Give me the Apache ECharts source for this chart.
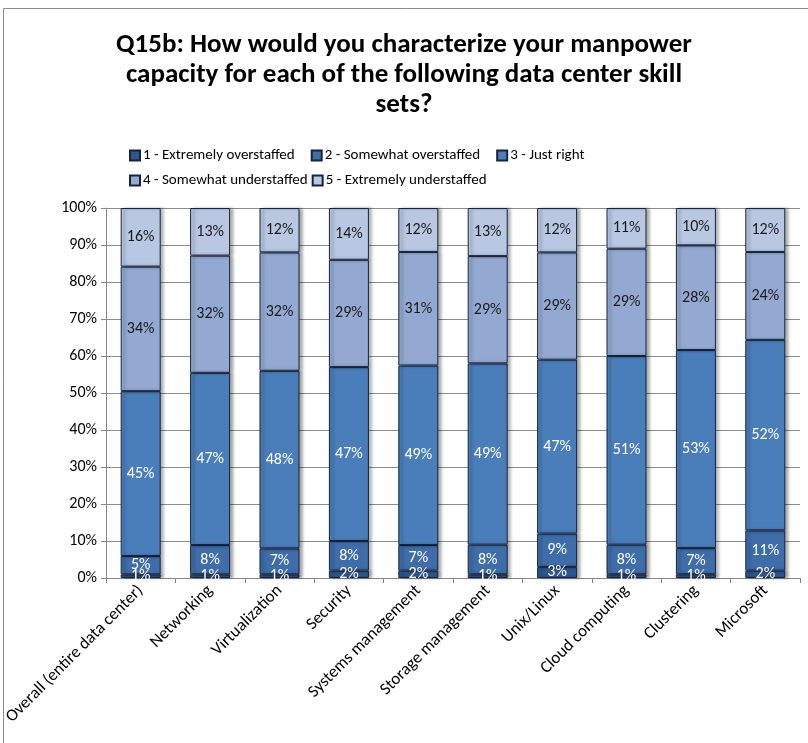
<!DOCTYPE html>
<html>
<head>
<meta charset="utf-8">
<script src="https://cdn.jsdelivr.net/npm/echarts@6/dist/echarts.min.js"></script>
<style>
html,body{margin:0;padding:0;background:#fff;}
#chart{width:808px;height:743px;}
</style>
</head>
<body>
<div id="chart"></div>
<script>
const categories = ['Overall (entire data center)', 'Networking', 'Virtualization', 'Security', 'Systems management', 'Storage management', 'Unix/Linux', 'Cloud computing', 'Clustering', 'Microsoft'];
const seriesNames = ['1 - Extremely overstaffed', '2 - Somewhat overstaffed', '3 - Just right', '4 - Somewhat understaffed', '5 - Extremely understaffed'];
const extremelyOverstaffed = [1, 1, 1, 2, 2, 1, 3, 1, 1, 2];
const somewhatOverstaffed = [5, 8, 7, 8, 7, 8, 9, 8, 7, 11];
const justRight = [45, 47, 48, 47, 49, 49, 47, 51, 53, 52];
const somewhatUnderstaffed = [34, 32, 32, 29, 31, 29, 29, 29, 28, 24];
const extremelyUnderstaffed = [16, 13, 12, 14, 12, 13, 12, 11, 10, 12];
const yTicks = [0, 10, 20, 30, 40, 50, 60, 70, 80, 90, 100];

const FONT = 'Carlito, Calibri, Lato, sans-serif';
const colors = ['#2d5690', '#3e6da9', '#4a7ebb', '#94a9d2', '#b8c7e2'];
const labelColors = ['#ffffff', '#ffffff', '#ffffff', '#1a1a1a', '#1a1a1a'];
const raw = [extremelyOverstaffed, somewhatOverstaffed, justRight, somewhatUnderstaffed, extremelyUnderstaffed];
// 100% stacked: each column is shown as a share of its own total
const totals = categories.map((c, i) => raw.reduce((s, arr) => s + arr[i], 0));

const series = raw.map((arr, si) => ({
  name: seriesNames[si],
  type: 'bar',
  stack: 'total',
  barWidth: 40,
  data: arr.map((v, i) => v / totals[i] * 100),
  itemStyle: {
    color: colors[si],
    borderColor: '#15233d',
    borderWidth: 1,
    shadowColor: 'rgba(0,0,0,0.35)',
    shadowBlur: 3,
    shadowOffsetX: 3,
    shadowOffsetY: 0
  },
  label: {
    show: true,
    position: 'inside',
    color: labelColors[si],
    fontFamily: FONT,
    fontSize: 16,
    formatter: p => raw[si][p.dataIndex] + '%'
  },
  emphasis: { disabled: true }
}));

const chart = echarts.init(document.getElementById('chart'), null, { renderer: 'canvas' });
chart.setOption({
  animation: false,
  backgroundColor: '#ffffff',
  title: {
    text: 'Q15b: How would you characterize your manpower\ncapacity for each of the following data center skill\nsets?',
    left: 'center',
    top: 25,
    textStyle: {
      fontFamily: FONT,
      fontSize: 27,
      fontWeight: 'bold',
      color: '#000',
      lineHeight: 30
    }
  },
  legend: [
    {
      data: seriesNames.slice(0, 3),
      left: 124,
      top: 143,
      itemWidth: 10,
      itemHeight: 10,
      itemGap: 16,
      icon: 'rect',
      textStyle: { fontFamily: FONT, fontSize: 15, color: '#000', padding: [0, 0, 0, -2] }
    },
    {
      data: seriesNames.slice(3),
      left: 124,
      top: 168,
      itemWidth: 10,
      itemHeight: 10,
      itemGap: 4,
      icon: 'rect',
      textStyle: { fontFamily: FONT, fontSize: 15, color: '#000', padding: [0, 0, 0, -2] }
    }
  ],
  graphic: [{
    type: 'rect',
    shape: { x: 3.5, y: 8.5, width: 1000, height: 1000 },
    style: { fill: 'none', stroke: '#8a8a8a', lineWidth: 1 },
    silent: true
  }],
  grid: { left: 106, right: 8, top: 208, bottom: 165, containLabel: false },
  xAxis: {
    type: 'category',
    data: categories,
    axisLine: { lineStyle: { color: '#868686' } },
    axisTick: { show: true, length: 5, lineStyle: { color: '#868686' } },
    axisLabel: {
      interval: 0,
      rotate: 45,
      margin: 10,
      fontFamily: FONT,
      fontSize: 17,
      color: '#000'
    }
  },
  yAxis: {
    type: 'value',
    min: 0,
    max: 100,
    interval: 10,
    axisLine: { show: true, lineStyle: { color: '#868686' } },
    axisTick: { show: true, length: 5, inside: false, lineStyle: { color: '#868686' } },
    splitLine: { show: true, lineStyle: { color: '#8c8c8c', width: 1 } },
    axisLabel: {
      margin: 9,
      fontFamily: FONT,
      fontSize: 16,
      color: '#000',
      formatter: v => (yTicks.indexOf(v) >= 0 ? v + '%' : '')
    }
  },
  series: series
});
</script>
</body>
</html>
